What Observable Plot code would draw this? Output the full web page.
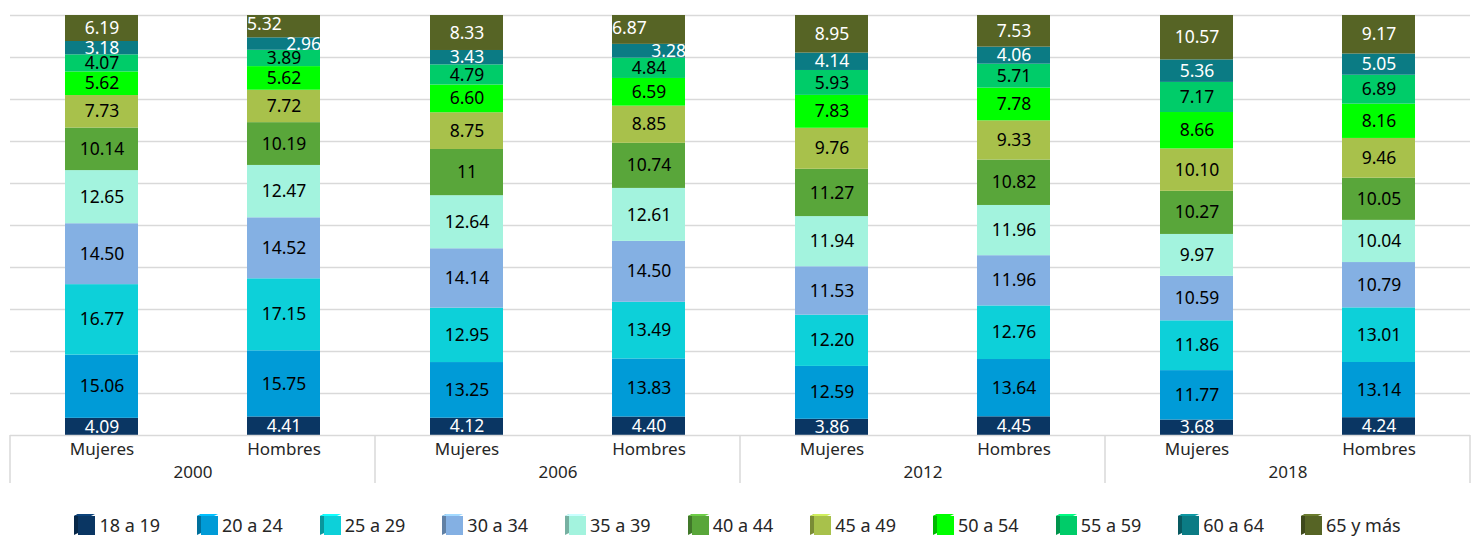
<!DOCTYPE html>
<html><head><meta charset="utf-8">
<script src="https://cdn.jsdelivr.net/npm/d3@7"></script>
<script src="https://cdn.jsdelivr.net/npm/@observablehq/plot@0.6"></script>
<style>
html,body{margin:0;padding:0;background:#fff;overflow:hidden;width:1475px;height:536px;}
#legend{width:1475px;height:31px;box-sizing:border-box;display:flex;justify-content:center;align-items:center;gap:37px;font-family:"Noto Sans",sans-serif;font-size:18px;color:#262626;padding-top:8px;}
.item{display:flex;align-items:center;white-space:nowrap;}
.item svg{margin-right:3px;}
</style></head><body>
<div id="chart"></div><div id="legend"></div>
<script>
const years = ["2000", "2006", "2012", "2018"];
const sexes = ["Mujeres", "Hombres"];
const ageGroups = ["18 a 19","20 a 24","25 a 29","30 a 34","35 a 39","40 a 44","45 a 49","50 a 54","55 a 59","60 a 64","65 y más"];
const palette = ["#0a3663","#009bd7","#0dd0d9","#84b0e3","#a3f3de","#59a63a","#a8c14b","#00ff00","#00cc69","#0b7b84","#566425"];
const darkGroups = ["18 a 19","60 a 64","65 y más"];
// bars whose two top labels are pushed apart (top one to the left, next one to the right)
const splitBars = ["2000 Hombres", "2006 Hombres"];

const m2000 = [4.09, 15.06, 16.77, 14.50, 12.65, 10.14, 7.73, 5.62, 4.07, 3.18, 6.19];
const h2000 = [4.41, 15.75, 17.15, 14.52, 12.47, 10.19, 7.72, 5.62, 3.89, 2.96, 5.32];
const m2006 = [4.12, 13.25, 12.95, 14.14, 12.64, 11, 8.75, 6.60, 4.79, 3.43, 8.33];
const h2006 = [4.40, 13.83, 13.49, 14.50, 12.61, 10.74, 8.85, 6.59, 4.84, 3.28, 6.87];
const m2012 = [3.86, 12.59, 12.20, 11.53, 11.94, 11.27, 9.76, 7.83, 5.93, 4.14, 8.95];
const h2012 = [4.45, 13.64, 12.76, 11.96, 11.96, 10.82, 9.33, 7.78, 5.71, 4.06, 7.53];
const m2018 = [3.68, 11.77, 11.86, 10.59, 9.97, 10.27, 10.10, 8.66, 7.17, 5.36, 10.57];
const h2018 = [4.24, 13.14, 13.01, 10.79, 10.04, 10.05, 9.46, 8.16, 6.89, 5.05, 9.17];

const series = [
  ["2000","Mujeres",m2000],["2000","Hombres",h2000],
  ["2006","Mujeres",m2006],["2006","Hombres",h2006],
  ["2012","Mujeres",m2012],["2012","Hombres",h2012],
  ["2018","Mujeres",m2018],["2018","Hombres",h2018]
];
const data = [];
for (const [year, sex, vals] of series) {
  vals.forEach((v, i) => data.push({year, sex, age: ageGroups[i], value: v}));
}
const fmt = v => Number.isInteger(v) ? String(v) : v.toFixed(2);
const isDark = d => darkGroups.includes(d.age);
const isSplit = d => splitBars.includes(d.year + " " + d.sex);
const isSplitTop = d => isSplit(d) && d.age === "65 y más";
const isSplitNext = d => isSplit(d) && d.age === "60 a 64";

const font = "'Noto Sans', sans-serif";
const stackOpts = {x: "sex", fx: "year", y: "value", z: "age", offset: "normalize"};
const labelSize = 17.5;

const chart = Plot.plot({
  width: 1475,
  height: 505,
  marginTop: 15,
  marginBottom: 70,
  marginLeft: 9,
  marginRight: 5,
  style: {fontFamily: font, fontSize: "17px", color: "#262626", background: "#fff"},
  fx: {domain: years, padding: 0, axis: "bottom", tickSize: 0, tickPadding: 30, label: null},
  x: {domain: sexes, paddingInner: 0.6, paddingOuter: 0.3, axis: "bottom", tickSize: 0, tickPadding: 7, label: null},
  y: {domain: [0, 1], axis: null},
  color: {domain: ageGroups, range: palette},
  marks: [
    Plot.ruleY(d3.range(1, 11).map(i => i / 10), {stroke: "#d9d9d9", strokeWidth: 1.5}),
    Plot.barY(data, Plot.stackY({...stackOpts, fill: "age"})),
    Plot.text(data, Plot.stackY({...stackOpts, text: d => isDark(d) ? "" : fmt(d.value), fill: "#000", fontSize: labelSize})),
    Plot.text(data, Plot.stackY({...stackOpts, text: d => isDark(d) && !isSplitTop(d) && !isSplitNext(d) ? fmt(d.value) : "", fill: "#fff", fontSize: labelSize})),
    Plot.text(data, Plot.stackY({...stackOpts, text: d => isSplitTop(d) ? fmt(d.value) : "", fill: "#fff", fontSize: labelSize, textAnchor: "start", dx: -37, dy: -2})),
    Plot.text(data, Plot.stackY({...stackOpts, text: d => isSplitNext(d) ? fmt(d.value) : "", fill: "#fff", fontSize: labelSize, textAnchor: "end", dx: 37})),
    Plot.ruleY([0], {stroke: "#d9d9d9", strokeWidth: 1.5})
  ]
});
document.getElementById("chart").appendChild(chart);

// category separators below the axis, derived from the fx and y scales
const fx = chart.scale("fx");
const ys = chart.scale("y");
const y0 = ys.apply(0);
const edges = years.map(yr => fx.apply(yr)).concat([fx.apply(years[years.length - 1]) + fx.bandwidth]);
const sep = d3.select(chart).append("g");
edges.forEach(xe => {
  sep.append("line").attr("x1", xe).attr("x2", xe).attr("y1", y0).attr("y2", y0 + 48)
    .attr("stroke", "#d9d9d9").attr("stroke-width", 1.5);
});

// legend with small cube swatches
const legend = d3.select("#legend");
ageGroups.forEach((g, i) => {
  const c = palette[i];
  const item = legend.append("div").attr("class", "item");
  const s = item.append("svg").attr("width", 22).attr("height", 21);
  s.append("polygon").attr("points", "0,2 4,0 4,19 0,21").attr("fill", d3.color(c).darker(0.9));
  s.append("polygon").attr("points", "0,2 4,0 21,0 17,2").attr("fill", d3.color(c).brighter(0.6));
  s.append("rect").attr("x", 4).attr("y", 2).attr("width", 17).attr("height", 19).attr("fill", c);
  item.append("span").text(g);
});
</script></body></html>
